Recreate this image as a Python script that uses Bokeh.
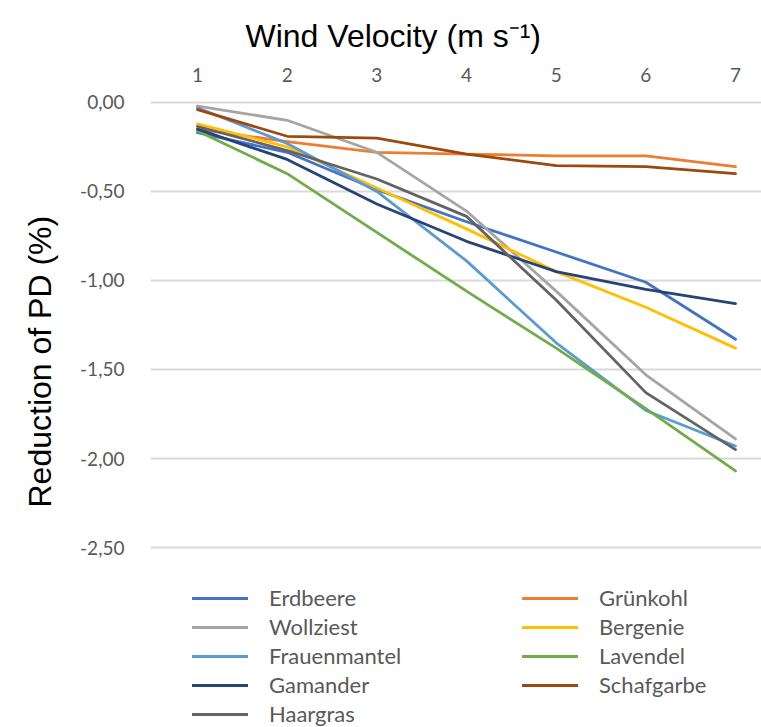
from bokeh.plotting import figure
from bokeh.models import FixedTicker, Legend, LegendItem, Range1d, Title
from bokeh.embed import file_html
from bokeh.resources import INLINE

# ---- data ----
wind = [1, 2, 3, 4, 5, 6, 7]
erdbeere = [-0.17, -0.28, -0.49, -0.67, -0.84, -1.01, -1.33]
gruenkohl = [-0.15, -0.22, -0.28, -0.29, -0.30, -0.30, -0.36]
wollziest = [-0.02, -0.10, -0.28, -0.61, -1.06, -1.53, -1.89]
bergenie = [-0.12, -0.25, -0.48, -0.71, -0.95, -1.15, -1.38]
frauenmantel = [-0.03, -0.23, -0.50, -0.89, -1.35, -1.73, -1.93]
lavendel = [-0.16, -0.40, -0.73, -1.06, -1.38, -1.72, -2.07]
gamander = [-0.15, -0.32, -0.57, -0.78, -0.95, -1.05, -1.13]
schafgarbe = [-0.04, -0.19, -0.20, -0.29, -0.355, -0.36, -0.40]
haargras = [-0.135, -0.27, -0.43, -0.64, -1.11, -1.63, -1.95]

series_names = ["Erdbeere", "Grünkohl", "Wollziest", "Bergenie", "Frauenmantel",
                "Lavendel", "Gamander", "Schafgarbe", "Haargras"]
series_values = [erdbeere, gruenkohl, wollziest, bergenie, frauenmantel,
                 lavendel, gamander, schafgarbe, haargras]
colors = ["#4472C4", "#ED7D31", "#A5A5A5", "#FFC000", "#5B9BD5",
          "#70AD47", "#264478", "#9E480E", "#636363"]

y_ticks = [0.0, -0.5, -1.0, -1.5, -2.0, -2.5]
y_tick_labels = ["0,00", "-0,50", "-1,00", "-1,50", "-2,00", "-2,50"]
x_tick_labels = ["1", "2", "3", "4", "5", "6", "7"]

title_text = "Wind Velocity (m s\u207b\u00b9)"
y_label = "Reduction of PD (%)"

# ---- figure ----
# The frame runs down to the bottom edge so the legend (placed below the
# gridded area) is not clipped; the extra y space below -2.5 stays empty.
p = figure(width=761, height=727, output_backend="svg", toolbar_location=None,
           x_axis_location="above",
           x_range=Range1d(0.476, 7.29), y_range=Range1d(-3.511, 0.011),
           min_border_left=150, min_border_right=0,
           min_border_top=100, min_border_bottom=0)
p.outline_line_color = None
p.background_fill_color = "white"
p.border_fill_color = "white"

renderers = []
for name, vals, col in zip(series_names, series_values, colors):
    r = p.line(wind, vals, line_color=col, line_width=2.8,
               line_join="round", line_cap="round")
    renderers.append(r)

# axes
p.xaxis.ticker = FixedTicker(ticks=wind)
p.xaxis.major_label_overrides = {w: t for w, t in zip(wind, x_tick_labels)}
p.yaxis.ticker = FixedTicker(ticks=y_ticks)
p.yaxis.major_label_overrides = {v: t for v, t in zip(y_ticks, y_tick_labels)}
for ax in (p.xaxis, p.yaxis):
    ax.axis_line_color = None
    ax.major_tick_line_color = None
    ax.minor_tick_line_color = None
    ax.major_label_text_font = "Lato"
    ax.major_label_text_font_size = "19px"
    ax.major_label_text_color = "#595959"
p.xaxis.major_label_standoff = 13
p.yaxis.major_label_standoff = 20

p.xgrid.grid_line_color = None
p.ygrid.ticker = FixedTicker(ticks=y_ticks)
p.ygrid.grid_line_color = "#d9d9d9"
p.ygrid.grid_line_width = 2

p.title.text = title_text
p.title.align = "left"
p.title.offset = 95
p.title.text_font = "Liberation Sans"
p.title.text_font_size = "32px"
p.title.text_font_style = "normal"
p.title.text_color = "black"
p.title.standoff = 22

ytitle = Title(text=y_label, align="left", offset=220,
               text_font="Liberation Sans", text_font_size="32px",
               text_font_style="normal", text_color="black", standoff=39)
p.add_layout(ytitle, "left")

# legend laid out row by row as in the reference (two columns)
order = [0, 2, 4, 6, 8, 1, 3, 5, 7]
legend = Legend(items=[LegendItem(label=series_names[i], renderers=[renderers[i]]) for i in order],
                ncols=2, location=(42, 0),
                glyph_width=56, glyph_height=20, label_height=20,
                label_standoff=21, label_width=251, spacing=2,
                padding=0, margin=0,
                label_text_font="Lato", label_text_font_size="22px",
                label_text_color="#595959",
                border_line_color=None, background_fill_alpha=0)
p.add_layout(legend, "center")

open("out.html", "w").write(file_html(p, INLINE))
